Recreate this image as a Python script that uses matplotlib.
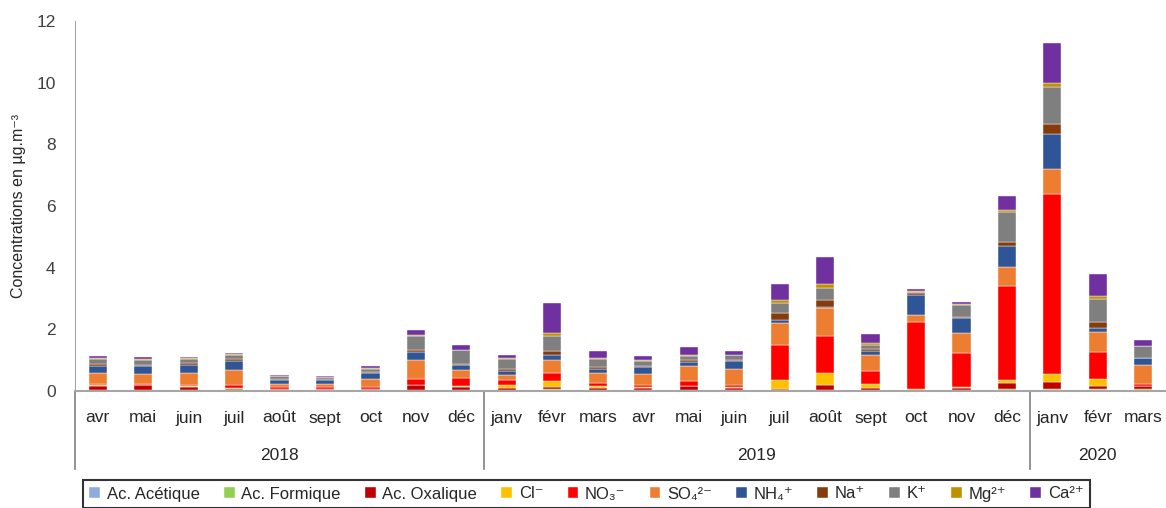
import numpy as np
import matplotlib
matplotlib.use("Agg")
import matplotlib.pyplot as plt
import matplotlib.transforms as mtransforms

plt.rcParams['font.family'] = ['Liberation Sans', 'DejaVu Sans']

# Months (x categories) and year groups
months = ["avr", "mai", "juin", "juil", "août", "sept", "oct", "nov", "déc",
          "janv", "févr", "mars", "avr", "mai", "juin", "juil", "août", "sept", "oct", "nov", "déc",
          "janv", "févr", "mars"]
years = ["2018", "2019", "2020"]
year_sizes = [9, 12, 3]

# Concentrations (µg.m-3), one list per species
acetique = [0.01, 0.01, 0.01, 0.01, 0.01, 0.01, 0.01, 0.01, 0.01,
            0.01, 0.01, 0.01, 0.01, 0.01, 0.01, 0.01, 0.01, 0.01, 0.01, 0.01, 0.01,
            0.04, 0.04, 0.01]
formique = [0.01, 0.01, 0.01, 0.01, 0.01, 0.01, 0.01, 0.01, 0.01,
            0.01, 0.04, 0.01, 0.01, 0.01, 0.01, 0.01, 0.03, 0.01, 0.01, 0.01, 0.04,
            0.01, 0.04, 0.04]
oxalique = [0.15, 0.18, 0.10, 0.04, 0.04, 0.03, 0.04, 0.16, 0.10,
            0.09, 0.08, 0.09, 0.09, 0.13, 0.065, 0.055, 0.17, 0.065, 0.0, 0.08, 0.20,
            0.24, 0.08, 0.10]
chlorure = [0.02, 0.0, 0.03, 0.05, 0.0, 0.0, 0.0, 0.0, 0.04,
            0.075, 0.195, 0.04, 0.03, 0.02, 0.04, 0.29, 0.37, 0.14, 0.04, 0.04, 0.11,
            0.27, 0.22, 0.0]
nitrate = [0.05, 0.04, 0.05, 0.075, 0.07, 0.065, 0.075, 0.22, 0.27,
           0.18, 0.26, 0.11, 0.065, 0.17, 0.055, 1.12, 1.22, 0.43, 2.19, 1.10, 3.03,
           5.83, 0.90, 0.065]
sulfate = [0.34, 0.32, 0.39, 0.50, 0.10, 0.10, 0.26, 0.60, 0.26,
           0.16, 0.43, 0.31, 0.34, 0.48, 0.53, 0.71, 0.89, 0.50, 0.23, 0.63, 0.64,
           0.81, 0.62, 0.64]
ammonium = [0.24, 0.24, 0.26, 0.28, 0.13, 0.13, 0.18, 0.26, 0.14,
            0.13, 0.15, 0.15, 0.24, 0.13, 0.25, 0.10, 0.045, 0.14, 0.64, 0.49, 0.66,
            1.15, 0.14, 0.20]
sodium = [0.065, 0.05, 0.065, 0.065, 0.04, 0.03, 0.045, 0.065, 0.055,
          0.055, 0.14, 0.055, 0.03, 0.055, 0.03, 0.23, 0.23, 0.055, 0.045, 0.045, 0.13,
          0.31, 0.19, 0.02]
potassium = [0.14, 0.15, 0.13, 0.13, 0.075, 0.065, 0.10, 0.47, 0.43,
             0.34, 0.48, 0.26, 0.17, 0.14, 0.17, 0.34, 0.38, 0.14, 0.045, 0.38, 0.97,
             1.20, 0.75, 0.37]
magnesium = [0.03, 0.03, 0.02, 0.04, 0.02, 0.01, 0.02, 0.03, 0.03,
             0.03, 0.10, 0.03, 0.02, 0.03, 0.02, 0.10, 0.11, 0.055, 0.03, 0.03, 0.065,
             0.12, 0.11, 0.01]
calcium = [0.075, 0.075, 0.045, 0.02, 0.03, 0.03, 0.065, 0.14, 0.15,
           0.10, 0.96, 0.24, 0.12, 0.24, 0.12, 0.52, 0.875, 0.30, 0.055, 0.075, 0.46,
           1.30, 0.72, 0.19]

series = [
    ("Ac. Acétique", acetique, "#8FAADC"),
    ("Ac. Formique", formique, "#92D050"),
    ("Ac. Oxalique", oxalique, "#C00000"),
    ("Cl⁻", chlorure, "#FFC000"),
    ("NO₃⁻", nitrate, "#FF0000"),
    ("SO₄²⁻", sulfate, "#ED7D31"),
    ("NH₄⁺", ammonium, "#2F5597"),
    ("Na⁺", sodium, "#843C0C"),
    ("K⁺", potassium, "#7F7F7F"),
    ("Mg²⁺", magnesium, "#BF9000"),
    ("Ca²⁺", calcium, "#7030A0"),
]

fig = plt.figure(figsize=(11.66, 5.08), dpi=100)
ax = fig.add_axes([75 / 1166, 1 - 391 / 508, 1 - 75 / 1166, (391 - 21) / 508])

x = np.arange(len(months))
bottom = np.zeros(len(months))
for name, vals, col in series:
    vals = np.array(vals)
    ax.bar(x, vals, width=0.4, bottom=bottom, color=col, label=name,
           edgecolor='white', linewidth=0.3)
    bottom += vals

ax.set_xlim(-0.5, len(months) - 0.5)
ax.set_ylim(0, 12)
ax.set_yticks(np.arange(0, 13, 2))
ax.tick_params(axis='y', length=0, labelsize=12.5, colors='#404040', pad=14)
ax.set_xticks([])
for side in ['top', 'right']:
    ax.spines[side].set_visible(False)
ax.spines['left'].set_color('#A6A6A6')
ax.spines['bottom'].set_color('#A6A6A6')
ax.spines['bottom'].set_linewidth(1.5)
ax.set_ylabel("Concentrations en µg.m⁻³", fontsize=11.5, color='#262626', labelpad=7)

# Two-level category axis below the bars
trans = mtransforms.blended_transform_factory(ax.transData, fig.transFigure)
for i, m in enumerate(months):
    ax.text(i, 1 - 418 / 508, m, transform=trans, ha='center', va='center',
            fontsize=12.5, color='#262626')
start = 0
edges = [0]
for yr, n in zip(years, year_sizes):
    ax.text(start + (n - 1) / 2, 1 - 456 / 508, yr, transform=trans, ha='center',
            va='center', fontsize=12.5, color='#262626')
    start += n
    edges.append(start)
for e in edges[:-1]:
    ax.plot([e - 0.5, e - 0.5], [1 - 391 / 508, 1 - 469 / 508], transform=trans,
            color='#808080', linewidth=1.2, clip_on=False)

leg = fig.legend(loc='center', bbox_to_anchor=(0.503, 1 - 494 / 508), ncol=11,
                 fontsize=12, frameon=True, fancybox=False, handlelength=0.65,
                 handleheight=0.65, handletextpad=0.4, columnspacing=1.45,
                 borderpad=0.4)
leg.get_frame().set_edgecolor('black')
leg.get_frame().set_linewidth(1.5)
for t in leg.get_texts():
    t.set_color('#262626')

fig.savefig("out.png", dpi=100)
